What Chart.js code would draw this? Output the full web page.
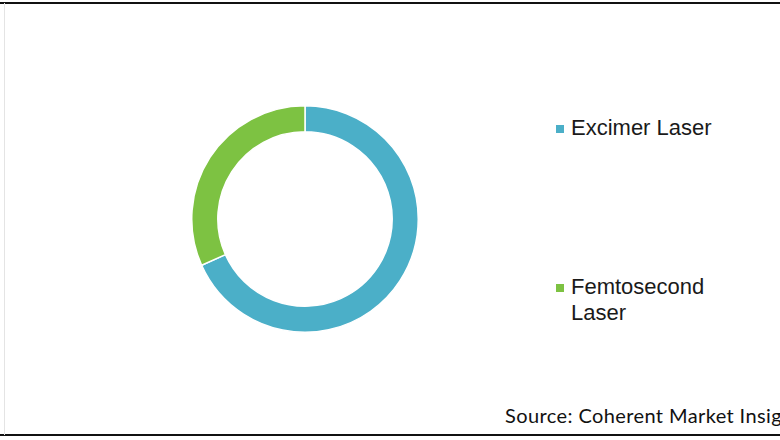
<!DOCTYPE html>
<html>
<head>
<meta charset="utf-8">
<script src="https://cdn.jsdelivr.net/npm/chart.js@4"></script>
<style>
  html, body { margin: 0; padding: 0; background: #fff; }
  #page { position: relative; width: 780px; height: 440px; overflow: hidden; background: #fff; }
  .rule { position: absolute; left: 0; width: 780px; height: 2px; background: #111; }
  #leftRule { position: absolute; left: 4px; top: 3px; width: 1px; height: 432px; background: #e4e4e4; }
  #donutBox { position: absolute; left: 191px; top: 105px; width: 228px; height: 228px; }
  .legend { position: absolute; left: 556px; font-family: "Liberation Sans", Arial, sans-serif; font-size: 22px; color: #1a1a1a; line-height: 26px; }
  .legend .mark { position: absolute; left: 0; top: 10px; width: 8px; height: 8px; }
  .legend .txt { position: absolute; left: 15px; top: 0; white-space: nowrap; }
  #source { position: absolute; left: 505px; top: 403px; font-family: Lato, "Open Sans", sans-serif; font-size: 20px; letter-spacing: 0.4px; color: #111; white-space: nowrap; }
</style>
</head>
<body>
<div id="page">
  <div class="rule" style="top:2px"></div>
  <div class="rule" style="top:434px"></div>
  <div id="leftRule"></div>
  <div id="donutBox"><canvas id="donut"></canvas></div>
  <div id="legend"></div>
  <div id="source">Source: Coherent Market Insights</div>
</div>
<script>
// Données du graphique
const categories = ["Excimer Laser", "Femtosecond Laser"];
const partsMarche = [68.3, 31.7];
const couleurs = ["#4bafc8", "#7dc242"];
const legendeLignes = [["Excimer Laser"], ["Femtosecond", "Laser"]];
const legendeY = [115, 274];

// Légende à droite
const legende = document.getElementById("legend");
legendeLignes.forEach((lignes, i) => {
  const item = document.createElement("div");
  item.className = "legend";
  item.style.top = legendeY[i] + "px";
  item.innerHTML =
    '<div class="mark" style="background:' + couleurs[i] + '"></div>' +
    '<div class="txt">' + lignes.join("<br>") + "</div>";
  legende.appendChild(item);
});

// Anneau
const ctx = document.getElementById("donut").getContext("2d");
new Chart(ctx, {
  type: "doughnut",
  data: {
    labels: categories,
    datasets: [
      {
        data: partsMarche,
        backgroundColor: couleurs,
        borderColor: "#ffffff",
        borderWidth: 1.5,
      },
    ],
  },
  options: {
    responsive: true,
    maintainAspectRatio: false,
    animation: false,
    cutout: "77%",
    layout: { padding: 0 },
    plugins: {
      legend: { display: false },
      tooltip: { enabled: false },
    },
  },
});
</script>
</body>
</html>
